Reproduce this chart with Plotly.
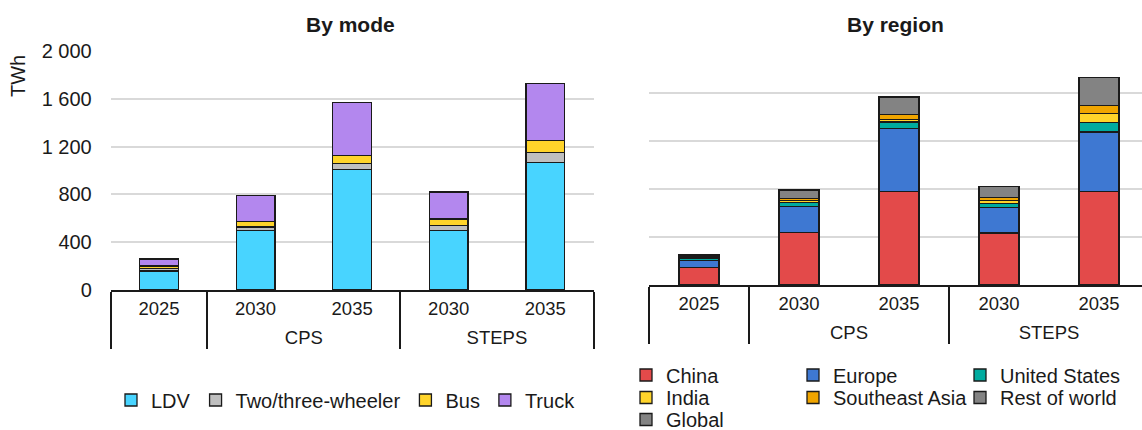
import plotly.graph_objects as go

# ---------------- data ----------------
groups = [" ", "CPS", "CPS", "STEPS", "STEPS"]
years = ["2025", "2030", "2035", "2030", "2035"]

mode_names = ["LDV", "Two/three-wheeler", "Bus", "Truck"]
ldv = [160, 496, 1007, 500, 1069]
two_three = [20, 31, 53, 38, 80]
bus = [22, 45, 64, 56, 104]
truck = [58, 221, 444, 226, 477]
mode_colors = ["#48D4FF", "#BFBFBF", "#FFD42A", "#B387EE"]

region_names = ["China", "Europe", "United States", "India", "Southeast Asia", "Rest of world", "Global"]
china = [147, 439, 777, 433, 777]
europe = [56, 214, 522, 214, 495]
united_states = [22, 33, 56, 33, 81]
india = [6, 16, 19, 25, 72]
southeast_asia = [8, 20, 42, 22, 69]
rest_of_world = [11, 69, 147, 92, 233]
global_ = [0, 0, 0, 0, 0]
region_colors = ["#E34A4A", "#3E78D2", "#00AB9F", "#FFD42A", "#F0A500", "#838383", "#838383"]

y_ticks = [0, 400, 800, 1200, 1600, 2000]
y_ticktext = ["0", "400", "800", "1 200", "1 600", "2 000"]

# ---------------- figure ----------------
W, H = 1142, 430
FONT = "Liberation Sans, Arial, sans-serif"
fig = go.Figure()

# second-level labels shifted slightly lower, as in the reference
group_labels = ["<span style='baseline-shift:-7px'>%s</span>" % g for g in groups]
x_multi = [group_labels, years]

for name, vals, col in zip(mode_names, [ldv, two_three, bus, truck], mode_colors):
    fig.add_trace(go.Bar(
        x=x_multi, y=vals, name=name, marker=dict(color=col, line=dict(color="#1a1a1a", width=1.3)),
        xaxis="x", yaxis="y", legend="legend"))

region_vals = [china, europe, united_states, india, southeast_asia, rest_of_world, global_]
region_legends = ["legend2", "legend2", "legend2", "legend3", "legend3", "legend3", "legend4"]
for name, vals, col, lg in zip(region_names, region_vals, region_colors, region_legends):
    fig.add_trace(go.Bar(
        x=x_multi, y=vals, name=name, marker=dict(color=col, line=dict(color="#1a1a1a", width=1.3)),
        xaxis="x2", yaxis="y2", legend=lg))

def px_x(p):
    return p / W

def px_y(p):
    return (H - p) / H

xaxis_font = dict(family=FONT, size=18.5, color="#1a1a1a")
yaxis_font = dict(family=FONT, size=20, color="#1a1a1a")
leg_font = dict(family=FONT, size=20, color="#1a1a1a")

common_x = dict(type="multicategory", showline=True, linecolor="#1a1a1a", linewidth=1.5,
                showdividers=True, dividercolor="#1a1a1a", dividerwidth=1.5,
                tickfont=xaxis_font, ticks="", ticklabelstandoff=1,
                showgrid=False, fixedrange=True, automargin=False)

fig.update_layout(
    width=W, height=H,
    margin=dict(l=0, r=0, t=0, b=0, autoexpand=False),
    paper_bgcolor="white", plot_bgcolor="white",
    barmode="stack", bargap=0.6,
    font=dict(family=FONT, size=18, color="#1a1a1a"),
    xaxis=dict(domain=[px_x(110.75), px_x(593.5)], anchor="y", range=[-0.5, 4.5], **common_x),
    yaxis=dict(domain=[px_y(290), px_y(51)], anchor="x", range=[0, 2000],
               tickvals=y_ticks, ticktext=y_ticktext, tickfont=yaxis_font,
               showgrid=True, gridcolor="#D9D9D9", gridwidth=1.5, zeroline=False,
               showline=False, ticks="", ticklabelstandoff=18, fixedrange=True, automargin=False),
    xaxis2=dict(domain=[px_x(649), 1.0], anchor="y2", range=[-0.5, 4.43], **common_x),
    yaxis2=dict(domain=[px_y(285), px_y(44.5)], anchor="x2", range=[0, 2000],
                tickvals=y_ticks, showticklabels=False,
                showgrid=True, gridcolor="#D9D9D9", gridwidth=1.5, zeroline=False,
                showline=False, ticks="", fixedrange=True, automargin=False),
    legend=dict(orientation="h", x=px_x(346), xanchor="center", y=px_y(400), yanchor="middle",
                font=leg_font, traceorder="normal", bgcolor="rgba(0,0,0,0)"),
    legend2=dict(orientation="h", x=px_x(626), xanchor="left", y=px_y(375), yanchor="middle",
                 font=leg_font, traceorder="normal", entrywidth=122, bgcolor="rgba(0,0,0,0)"),
    legend3=dict(orientation="h", x=px_x(626), xanchor="left", y=px_y(397.5), yanchor="middle",
                 font=leg_font, traceorder="normal", entrywidth=122, bgcolor="rgba(0,0,0,0)"),
    legend4=dict(orientation="h", x=px_x(626), xanchor="left", y=px_y(419.5), yanchor="middle",
                 font=leg_font, traceorder="normal", entrywidth=122, bgcolor="rgba(0,0,0,0)"),
    showlegend=True,
)

title_font = dict(family=FONT, size=21, color="#1a1a1a")
fig.add_annotation(text="<b>By mode</b>", x=px_x(350), y=px_y(25), xref="paper", yref="paper",
                   xanchor="center", yanchor="middle", showarrow=False, font=title_font)
fig.add_annotation(text="<b>By region</b>", x=px_x(895), y=px_y(25), xref="paper", yref="paper",
                   xanchor="center", yanchor="middle", showarrow=False, font=title_font)
fig.add_annotation(text="TWh", x=px_x(18), y=px_y(76), xref="paper", yref="paper",
                   xanchor="center", yanchor="middle", showarrow=False, textangle=-90, font=yaxis_font)

fig.write_html("out.html", config={"displayModeBar": False},
               post_script="document.body.style.margin='0';document.body.style.overflow='hidden';")
